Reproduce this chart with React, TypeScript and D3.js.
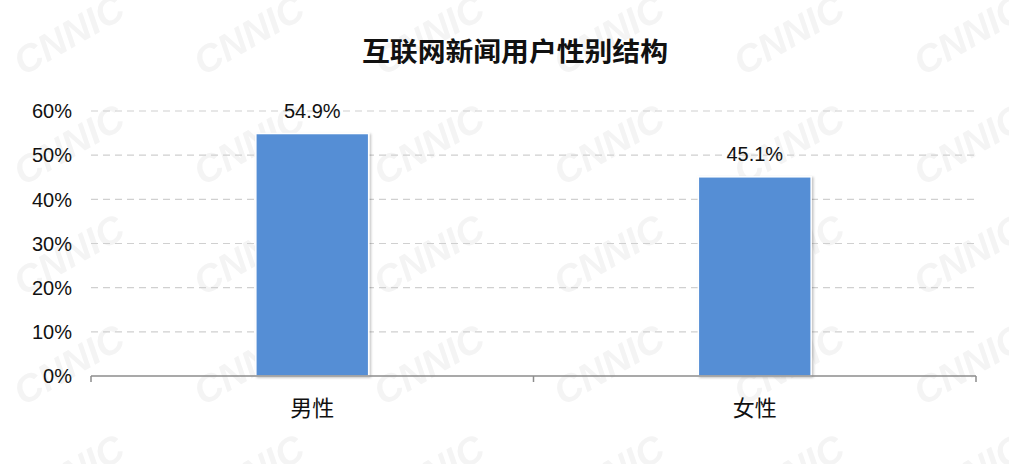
import React from 'react';
import * as d3 from 'd3';

const TITLE = '互联网新闻用户性别结构';
const categories = ['男性', '女性'];
const shares = [54.9, 45.1];
const yTicks = [0, 10, 20, 30, 40, 50, 60];

const W = 1009;
const H = 464;
const LEFT = 91;
const RIGHT = 976;
const TOP = 111;
const BOTTOM = 376;
const BAR = '#558ed5';
const FONT = 'Arial, "Liberation Sans", "Noto Sans CJK SC", sans-serif';
const CJK = '"Noto Sans CJK SC", "Microsoft YaHei", sans-serif';

export default function App() {
  const x = d3.scaleBand<string>()
    .domain(categories)
    .range([LEFT, RIGHT])
    .paddingInner(0.745)
    .paddingOuter(0.3725);

  const y = d3.scaleLinear().domain([0, 60]).range([BOTTOM, TOP]);

  const step = x.step();
  const tickXs = [LEFT, LEFT + step, RIGHT];

  return (
    <svg
      width={W}
      height={H}
      viewBox={`0 0 ${W} ${H}`}
      style={{ position: 'absolute', left: 0, top: 0, background: '#fff' }}
    >
      <defs>
        <pattern id="wm" width={180} height={110} patternUnits="userSpaceOnUse" x={-30} y={-15}>
          <text
            x={40}
            y={68}
            transform="rotate(-30 90 55)"
            fontFamily={FONT}
            fontWeight="bold"
            fontStyle="italic"
            fontSize={38}
            fill="#f4f4f4"
          >
            CNNIC
          </text>
        </pattern>
        <filter id="shadow" x="-10%" y="-10%" width="130%" height="130%">
          <feDropShadow dx={1.5} dy={1} stdDeviation={1.2} floodColor="#000" floodOpacity={0.25} />
        </filter>
      </defs>

      <rect width={W} height={H} fill="url(#wm)" />

      <text
        x={515}
        y={61}
        textAnchor="middle"
        fontFamily={CJK}
        fontWeight="bold"
        fontSize={26}
        textLength={306}
        lengthAdjust="spacingAndGlyphs"
        fill="#111"
      >
        {TITLE}
      </text>

      {yTicks.map((t) => (
        <g key={t}>
          {t > 0 && (
            <line
              x1={LEFT}
              x2={RIGHT}
              y1={y(t)}
              y2={y(t)}
              stroke="#d0d0d0"
              strokeWidth={1.2}
              strokeDasharray="7 5"
            />
          )}
          <text
            x={72}
            y={y(t)}
            dy="0.36em"
            textAnchor="end"
            fontFamily={FONT}
            fontSize={20}
            fill="#111"
          >
            {`${t}%`}
          </text>
        </g>
      ))}

      {categories.map((c, i) => {
        const bx = x(c) ?? 0;
        const bw = x.bandwidth();
        const v = shares[i];
        return (
          <g key={c}>
            <rect
              x={bx}
              y={y(v)}
              width={bw}
              height={BOTTOM - y(v)}
              fill={BAR}
              stroke="#fff"
              strokeWidth={1.5}
              filter="url(#shadow)"
            />
            <text
              x={bx + bw / 2}
              y={y(v) - 16}
              textAnchor="middle"
              fontFamily={FONT}
              fontSize={20}
              fill="#111"
            >
              {`${v.toFixed(1)}%`}
            </text>
            <text
              x={bx + bw / 2}
              y={416}
              textAnchor="middle"
              fontFamily={CJK}
              fontSize={22}
              fill="#111"
            >
              {c}
            </text>
          </g>
        );
      })}

      <line x1={LEFT} x2={RIGHT} y1={BOTTOM} y2={BOTTOM} stroke="#8c8c8c" strokeWidth={1.5} />
      {tickXs.map((tx) => (
        <line key={tx} x1={tx} x2={tx} y1={BOTTOM} y2={BOTTOM + 6} stroke="#8c8c8c" strokeWidth={1.5} />
      ))}
    </svg>
  );
}
